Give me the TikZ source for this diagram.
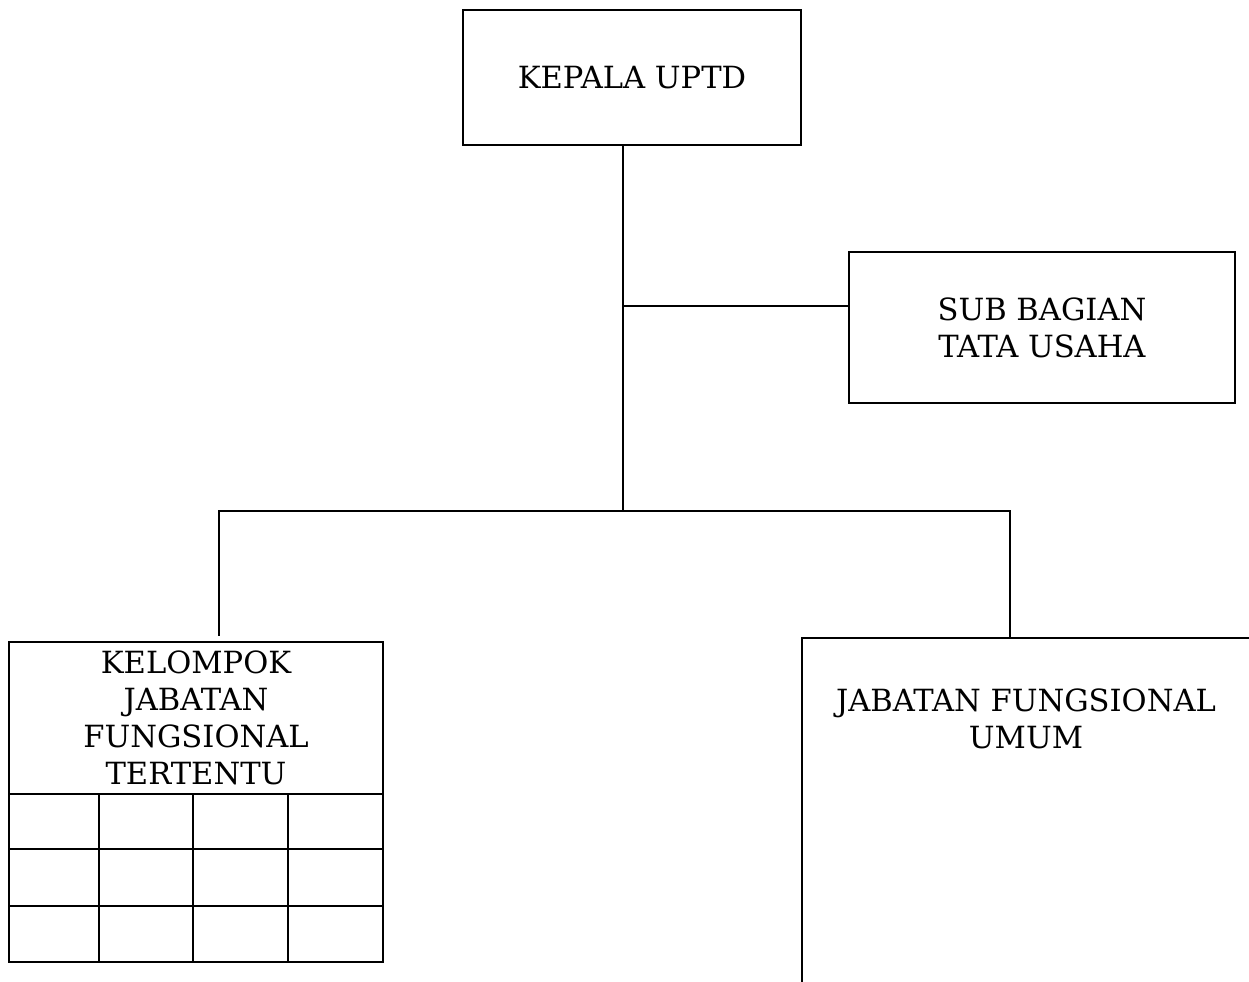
\documentclass[tikz,border=0pt]{standalone}
\usepackage{fontspec}
\setmainfont{DejaVu Serif}
\begin{document}
\begin{tikzpicture}
	[
		x=0.02cm,
		y=-0.02cm,
		line cap=rect,
		box/.style={draw,line width=1.2pt,align=center,inner sep=0pt,font=\fontsize{17.4}{21}\selectfont},
		conn/.style={line width=1.2pt}
	]
		\clip (0,0) rectangle (1249,982);
		\node[box,minimum width=6.76cm,minimum height=2.7cm] (kepala) at (632,77.5) {KEPALA UPTD};
		\node[box,minimum width=7.72cm,minimum height=3.02cm] (sub) at (1042,327.5) {SUB BAGIAN\\TATA USAHA};
		\node[box,minimum width=7.48cm,minimum height=3.04cm] (kjft) at (196,718) {KELOMPOK\\JABATAN\\FUNGSIONAL\\TERTENTU};
		\node[box,anchor=north west,minimum width=10cm,minimum height=8cm] (jfu) at (801,637) {};
		\node[box,draw=none] (jfutext) at (1026,719) {JABATAN FUNGSIONAL\\UMUM};
		% grid below kelompok
		\draw[conn] (9,794) rectangle (383,962);
		\foreach \y in {849,906}
			\draw[conn] (9,\y) -- (383,\y);
		\foreach \x in {99,193,288}
			\draw[conn] (\x,794) -- (\x,962);
		% connectors
		\coordinate (junc) at (623,511);
		\coordinate (tap) at (623,306);
		\coordinate (endL) at (219,635);
		\coordinate (endR) at (1010,636);
		\draw[conn] (kepala.south -| junc) -- (junc);
		\draw[conn] (tap) -- (tap -| sub.west);
		\draw[conn] (junc) -| (endL);
		\draw[conn] (junc) -| (endR);
	\end{tikzpicture}
\end{document}
